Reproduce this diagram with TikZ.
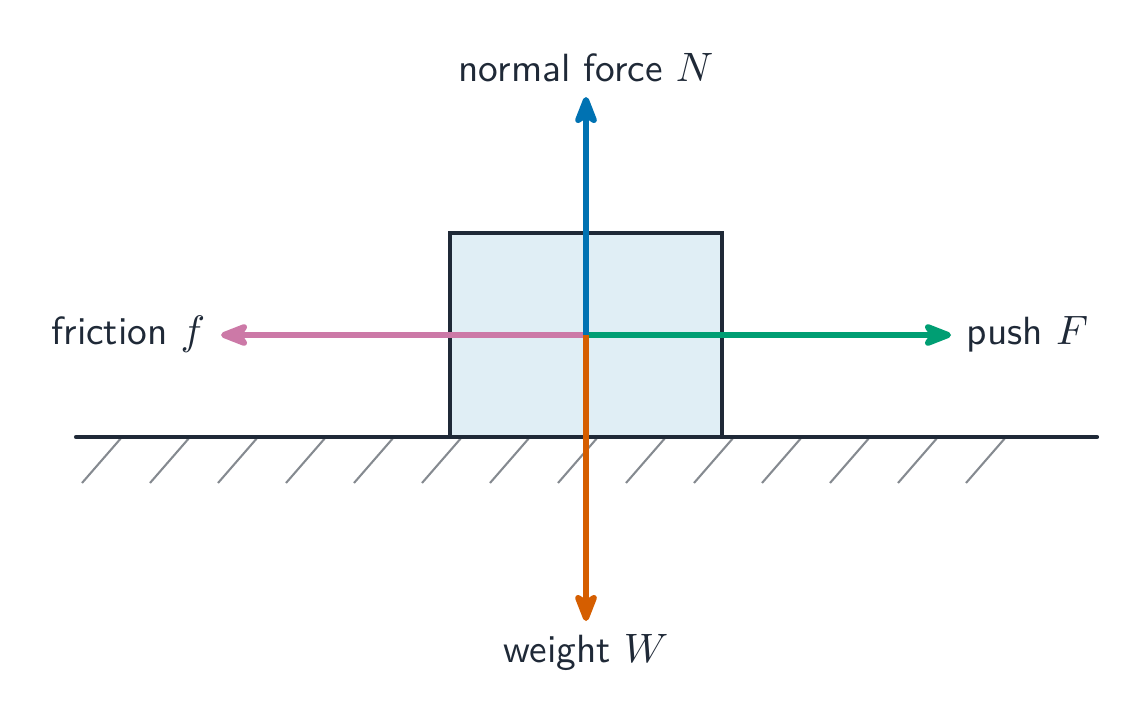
\documentclass[tikz,border=0pt]{standalone}
\usetikzlibrary{arrows.meta}
\definecolor{ink}{HTML}{1F2937}
\definecolor{boxfill}{HTML}{E0EEF5}
\definecolor{hatchgray}{HTML}{858A90}
\definecolor{nblue}{HTML}{0072B2}
\definecolor{worange}{HTML}{D55E00}
\definecolor{pgreen}{HTML}{009E73}
\definecolor{fpink}{HTML}{CC79A7}
\tikzset{
  force/.style={line width=1.6pt, -{Stealth[round,length=9.5pt,width=7.3pt,inset=2.4pt]}},
  lbl/.style={font=\fontsize{10.5}{12}\sffamily, text=ink, inner sep=0pt},
  hatch/.style={hatchgray, line width=0.55pt},
}
\begin{document}
\begin{tikzpicture}[x=0.2667pt,y=-0.2667pt]
\useasboundingbox (0,0) rectangle (1141,725);
% block
\node[draw=ink, fill=boxfill, line width=1.1pt, minimum width=272*0.2667pt, minimum height=204*0.2667pt, inner sep=0pt] (block) at (586,335) {};
% hatches
\foreach \i in {0,...,13}{
  \draw[hatch] (122+68*\i,437) -- (82+68*\i,483);
}
% ground
\coordinate (gl) at (76,437);
\coordinate (gr) at (1097,437);
\draw[ink, line width=1.1pt, line cap=round] (gl) -- (gr);
% centre
\coordinate (c) at (586,335);
\fill[ink] (c) circle (4);
% tips
\coordinate (tN) at (586,97);
\coordinate (tW) at (586,621);
\coordinate (tf) at (221,335);
\coordinate (tF) at (951,335);
\draw[force, fpink] (c) -- (tf);
\draw[force, pgreen] (c) -- (tF);
\draw[force, nblue] (c) -- (tN);
\draw[force, worange] (c) -- (tW);
% labels
\node[lbl] (lN) at (586,68) {normal force $N$};
\node[lbl] (lW) at (586,653) {weight $W$};
\node[lbl, anchor=east] (lf) at (206,334) {friction $f$};
\node[lbl, anchor=west] (lF) at (966,334) {push $F$};
\end{tikzpicture}
\end{document}
